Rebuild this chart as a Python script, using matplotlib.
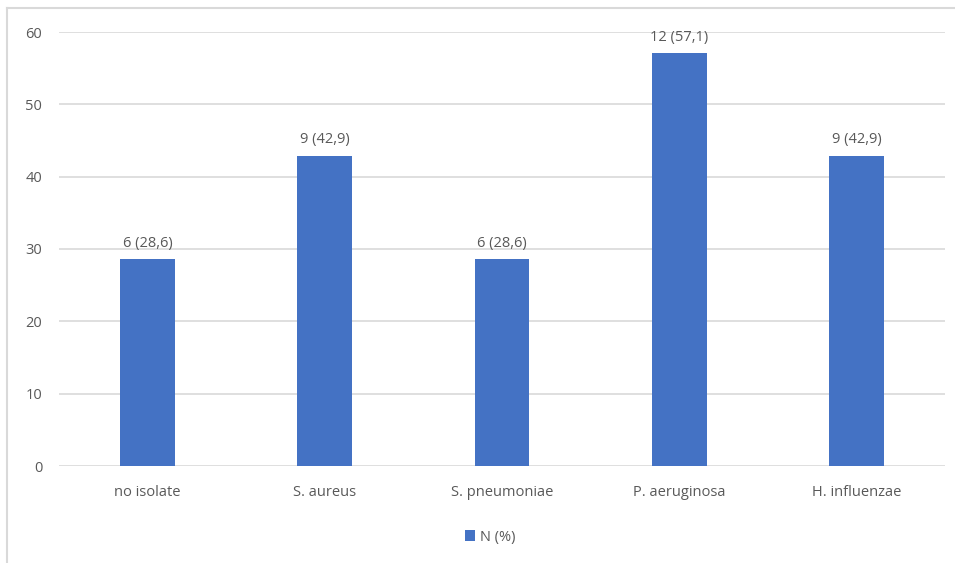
import matplotlib
matplotlib.use("Agg")
import matplotlib.pyplot as plt
from matplotlib.lines import Line2D

categories = ["no isolate", "S. aureus", "S. pneumoniae", "P. aeruginosa", "H. influenzae"]
counts = [6, 9, 6, 12, 9]
percents = [28.6, 42.9, 28.6, 57.1, 42.9]
yticks = [0, 10, 20, 30, 40, 50, 60]
series_name = "N (%)"

plt.rcParams['font.family'] = ['Open Sans', 'DejaVu Sans']
W, H = 955, 563
fig = plt.figure(figsize=(W/100, H/100), dpi=100)
ax = fig.add_axes([59/W, 1-466/H, (945-59)/W, (466-32)/H])

bar_color = "#4472C4"
text_color = "#595959"
x = list(range(len(categories)))
bars = ax.bar(x, percents, width=0.31, color=bar_color, label=series_name, zorder=3)
for xi, c, p in zip(x, counts, percents):
    ax.annotate(f"{c} ({str(p).replace('.', ',')})", (xi, p), xytext=(0, 6),
                textcoords="offset points", ha="center", va="bottom",
                fontsize=10.5, color=text_color)

ax.set_xlim(-0.5, len(categories)-0.5)
ax.set_ylim(0, 60)
ax.set_yticks(yticks)
ax.set_xticks(x)
ax.set_xticklabels(categories)
ax.grid(axis='y', color="#D9D9D9", linewidth=1.2, zorder=0)
for s in ax.spines.values():
    s.set_visible(False)
ax.tick_params(axis='both', length=0, colors=text_color, labelsize=10.5)
ax.tick_params(axis='y', pad=12)
ax.tick_params(axis='x', pad=14)

leg = fig.legend(handles=[bars], labels=[series_name], loc='center',
                 bbox_to_anchor=(490/W, 1-537/H), frameon=False,
                 fontsize=10.5, handlelength=0.7, handleheight=0.7,
                 handletextpad=0.3, labelcolor=text_color)

fig.add_artist(Line2D([7/W, 1], [1-8/H, 1-8/H], color="#D9D9D9", linewidth=1.5))
fig.add_artist(Line2D([7/W, 7/W], [0, 1-8/H], color="#D9D9D9", linewidth=1.5))

fig.savefig("out.png", dpi=100)
